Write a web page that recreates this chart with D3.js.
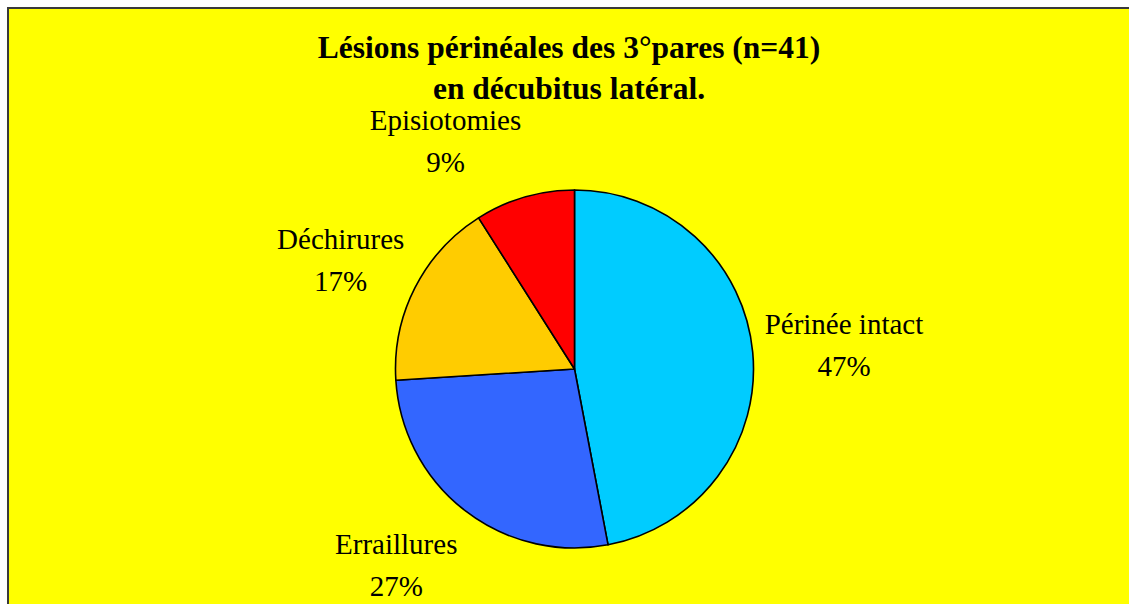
<!DOCTYPE html>
<html>
<head>
<meta charset="utf-8">
<script src="https://cdn.jsdelivr.net/npm/d3@7"></script>
<style>
  html, body { margin: 0; padding: 0; background: #ffffff; }
  svg { display: block; }
  text { font-family: "Liberation Serif", "Times New Roman", serif; fill: #000; }
</style>
</head>
<body>
<svg id="chart" width="1129" height="604"></svg>
<script>
// Perineal lesions, third-parity births, lateral decubitus (n=41)
const categories = ["Périnée intact", "Erraillures", "Déchirures", "Episiotomies"];
const percents = [47, 27, 17, 9];
const colors = ["#00CCFF", "#3366FF", "#FFCC00", "#FF0000"];
const titleLines = ["Lésions périnéales des 3°pares (n=41)", "en décubitus latéral."];

const W = 1129, H = 604;
const svg = d3.select("#chart");

// Chart area: yellow panel with a dark frame (runs off the right/bottom edges)
svg.append("rect")
  .attr("x", 8).attr("y", 8)
  .attr("width", W + 20).attr("height", H + 20)
  .attr("fill", "#FFFF00")
  .attr("stroke", "#3a3a3a")
  .attr("stroke-width", 2);

// Title
const title = svg.append("text")
  .attr("text-anchor", "middle")
  .attr("font-weight", "bold")
  .attr("font-size", 31.5);
titleLines.forEach((t, i) => {
  title.append("tspan")
    .attr("x", 569)
    .attr("y", 58 + i * 41)
    .text(t);
});

// Pie
const cx = 574.5, cy = 369, r = 179;
const pie = d3.pie().sort(null).value(d => d.v).startAngle(0).endAngle(2 * Math.PI);
const data = categories.map((c, i) => ({ name: c, v: percents[i], color: colors[i] }));
const arcs = pie(data);
const arcGen = d3.arc().innerRadius(0).outerRadius(r);

const g = svg.append("g").attr("transform", `translate(${cx},${cy})`);
g.selectAll("path.slice")
  .data(arcs)
  .join("path")
  .attr("class", "slice")
  .attr("d", arcGen)
  .attr("fill", d => d.data.color)
  .attr("stroke", "#000")
  .attr("stroke-width", 1.6)
  .attr("stroke-linejoin", "round");

// Outside labels: category name over percentage, placed beside the slice's mid-angle
const labelR = r + 12;
const fs = 29;
arcs.forEach(a => {
  const mid = (a.startAngle + a.endAngle) / 2;
  const sx = Math.sin(mid), cyDir = Math.cos(mid);
  const ax = cx + labelR * sx;
  const ay = cy - labelR * cyDir;

  const lab = svg.append("text")
    .attr("text-anchor", "middle")
    .attr("font-size", fs);
  const t1 = lab.append("tspan").text(a.data.name);
  const t2 = lab.append("tspan").text(a.data.v + "%");
  const w = Math.max(t1.node().getComputedTextLength(), t2.node().getComputedTextLength());

  const halfH = cyDir > 0 ? 44 : 59;
  const bx = ax + Math.sign(sx) * w / 2;
  const by = ay - cyDir * halfH;
  t1.attr("x", bx).attr("y", by - 13);
  t2.attr("x", bx).attr("y", by + 29);
});
</script>
</body>
</html>
